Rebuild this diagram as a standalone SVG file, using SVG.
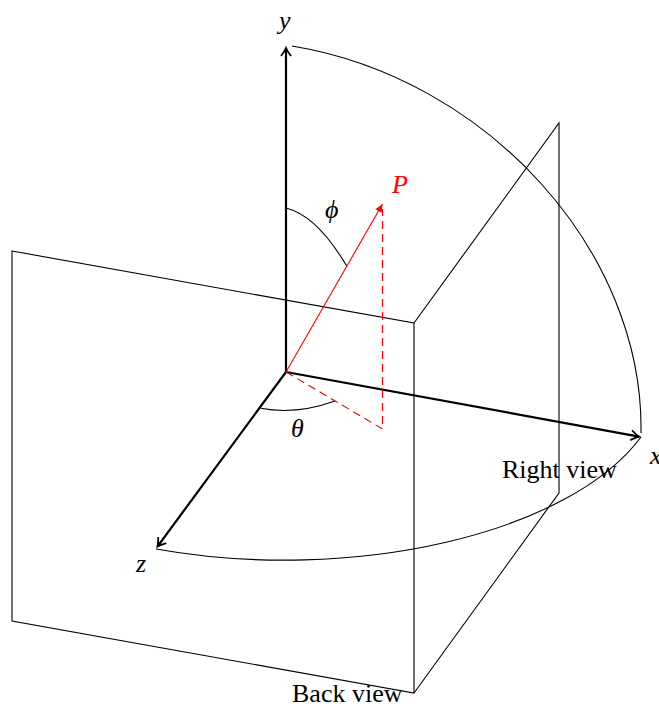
<svg xmlns="http://www.w3.org/2000/svg" width="659" height="704" viewBox="0 0 659 704">
<style>
.ln{fill:none;stroke:#000;stroke-width:1.1}
.ax{fill:none;stroke:#000;stroke-width:2.2}
.rd{fill:none;stroke:#f00;stroke-width:1.1}
.dash{stroke-dasharray:8,5}
.lbl{font-family:"Liberation Serif","Times New Roman",serif;font-size:26px;fill:#000}
.it{font-style:italic;font-size:26px}
</style>
<defs>
<marker id="ah" viewBox="-10 -6 12 12" markerWidth="12" markerHeight="12" refX="0" refY="0" orient="auto" markerUnits="userSpaceOnUse">
<path d="M-8,-5 Q-3,-1.2 0,0 Q-3,1.2 -8,5" fill="none" stroke="#000" stroke-width="1.8"/>
</marker>
<marker id="rh" viewBox="-9 -4 10 8" markerWidth="10" markerHeight="8" refX="0" refY="0" orient="auto" markerUnits="userSpaceOnUse">
<path d="M-8,-3.5 L0,0 L-8,3.5 Z" fill="#f00"/>
</marker>
</defs>
<g id="back-plane">
<path class="ln" d="M12,251 L414,323 L414,693 L12,621 Z"/>
</g>
<g id="right-plane">
<path class="ln" d="M414,323 L559,123 L559,493 L414,693"/>
</g>
<g id="connectors">
<path id="y-axis" class="ax" d="M286,372 L286,48" marker-end="url(#ah)"/>
<path id="x-axis" class="ax" d="M286,372 L639,436.6" marker-end="url(#ah)"/>
<path id="z-axis" class="ax" d="M286,372 L157.5,546.5" marker-end="url(#ah)"/>
<path id="arc-yx" class="ln" d="M292,46 C487,78 644,251 641,433"/>
<path id="arc-xz" class="ln" d="M641,437 C569,534 352,584 156,549"/>
<path id="arc-phi" class="ln" d="M286.7,208.3 Q317,216 346.7,266"/>
<path id="arc-theta" class="ln" d="M260.7,408.3 Q296,415 335,401"/>
<path id="op" class="rd" d="M286,372 L382.5,204" marker-end="url(#rh)"/>
<path id="proj" class="rd dash" d="M286,372 L382.5,429 L382.5,209"/>
</g>
<g id="labels">
<text class="lbl it" x="279" y="29">y</text>
<text class="lbl it" x="650" y="464">x</text>
<text class="lbl it" x="136" y="572">z</text>
<text class="lbl it" x="392" y="193" style="fill:#f00">P</text>
<text class="lbl it" x="325" y="218">ϕ</text>
<text class="lbl it" x="291" y="437">θ</text>
<text class="lbl" x="502" y="478">Right view</text>
<text class="lbl" x="292" y="702">Back view</text>
</g>
</svg>
